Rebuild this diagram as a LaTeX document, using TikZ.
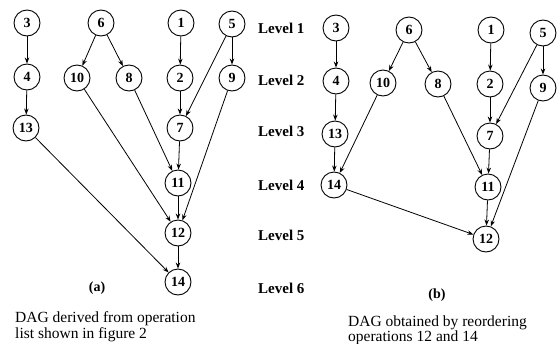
\documentclass[tikz,border=0pt]{standalone}
\usepackage{fontspec}
\setmainfont{Liberation Serif}
\usetikzlibrary{arrows.meta}
\begin{document}
\begin{tikzpicture}[x=1pt,y=-1pt,
  op/.style={draw,circle,minimum size=26pt,inner sep=0pt,line width=0.9pt,font=\fontsize{14}{14}\selectfont\bfseries},
  dep/.style={-{Stealth[length=6pt,width=4.5pt]},line width=0.8pt},
  lvl/.style={anchor=west,inner sep=0pt,font=\fontsize{15}{15}\selectfont\bfseries},
  tag/.style={inner sep=0pt,font=\fontsize{14}{14}\selectfont\bfseries},
  capline/.style={anchor=base west,inner sep=0pt,font=\fontsize{15.5}{16}\selectfont}]
\useasboundingbox (0,0) rectangle (557,343);
% (a) graph from the operation list
\node[op] (a3) at (27,23) {3};
\node[op] (a6) at (101,23) {6};
\node[op] (a1) at (181,23) {1};
\node[op] (a5) at (232,24) {5};
\node[op] (a4) at (27,77) {4};
\node[op] (a10) at (77,78) {10};
\node[op] (a8) at (129,78) {8};
\node[op] (a2) at (180,78) {2};
\node[op] (a9) at (232,78) {9};
\node[op] (a13) at (26,128) {13};
\node[op] (a7) at (180,128) {7};
\node[op] (a11) at (178,183) {11};
\node[op] (a12) at (178,233) {12};
\node[op] (a14) at (178,282) {14};
\draw[dep] (a3) -- (a4);
\draw[dep] (a4) -- (a13);
\draw[dep] (a6) -- (a10);
\draw[dep] (a6) -- (a8);
\draw[dep] (a1) -- (a2);
\draw[dep] (a5) -- (a9);
\draw[dep] (a5) -- (a7);
\draw[dep] (a2) -- (a7);
\draw[dep] (a7) -- (a11);
\draw[dep] (a8) -- (a11);
\draw[dep] (a10) -- (a12);
\draw[dep] (a9) -- (a12);
\draw[dep] (a11) -- (a12);
\draw[dep] (a13) -- (a14);
\draw[dep] (a12) -- (a14);
\node[tag] (taga) at (97,288) {(a)};
\node[capline] (capa1) at (15,322) {DAG derived from operation};
\node[capline] (capa2) at (15,338) {list shown in figure 2};
% levels
\node[lvl] (lv1) at (258,28) {Level 1};
\node[lvl] (lv2) at (258,80) {Level 2};
\node[lvl] (lv3) at (258,131) {Level 3};
\node[lvl] (lv4) at (258,185) {Level 4};
\node[lvl] (lv5) at (258,235) {Level 5};
\node[lvl] (lv6) at (258,288) {Level 6};
% (b) graph after reordering
\node[op] (b3) at (336,28) {3};
\node[op] (b6) at (409,30) {6};
\node[op] (b1) at (491,30) {1};
\node[op] (b5) at (543,33) {5};
\node[op] (b4) at (336,81) {4};
\node[op] (b10) at (383,83) {10};
\node[op] (b8) at (438,84) {8};
\node[op] (b2) at (490,84) {2};
\node[op] (b9) at (543,88) {9};
\node[op] (b13) at (335,134) {13};
\node[op] (b7) at (490,136) {7};
\node[op] (b14) at (334,185) {14};
\node[op] (b11) at (488,187) {11};
\node[op] (b12) at (486,239) {12};
\draw[dep] (b3) -- (b4);
\draw[dep] (b4) -- (b13);
\draw[dep] (b13) -- (b14);
\draw[dep] (b6) -- (b10);
\draw[dep] (b6) -- (b8);
\draw[dep] (b10) -- (b14);
\draw[dep] (b8) -- (b11);
\draw[dep] (b1) -- (b2);
\draw[dep] (b2) -- (b7);
\draw[dep] (b5) -- (b7);
\draw[dep] (b5) -- (b9);
\draw[dep] (b7) -- (b11);
\draw[dep] (b9) -- (b12);
\draw[dep] (b11) -- (b12);
\draw[dep] (b14) -- (b12);
\node[tag] (tagb) at (437,295) {(b)};
\node[capline] (capb1) at (348,326) {DAG obtained by reordering};
\node[capline] (capb2) at (348,341) {operations 12 and 14};
\end{tikzpicture}
\end{document}
